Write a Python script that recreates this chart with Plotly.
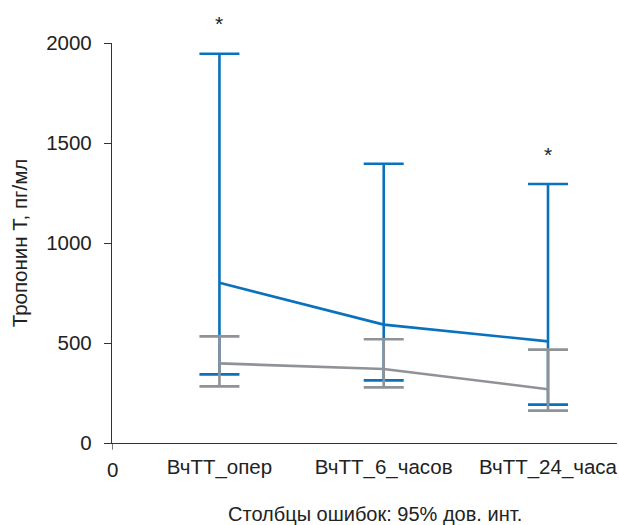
import plotly.graph_objects as go

categories = ["ВчТТ_опер", "ВчТТ_6_часов", "ВчТТ_24_часа"]
blue_mean = [801, 592, 508]
blue_low = [343, 313, 192]
blue_high = [1946, 1396, 1295]
gray_mean = [398, 370, 269]
gray_low = [283, 278, 162]
gray_high = [533, 519, 467]
y_ticks = [0, 500, 1000, 1500, 2000]
significant = [True, False, True]
origin_label = "0"
y_title = "Тропонин Т, пг/мл"
footnote = "Столбцы ошибок: 95% дов. инт."

BLUE = "#0a72bd"
GRAY = "#8f9297"
TXT = "#222222"
FONT = "Liberation Sans, Arial, sans-serif"

xs = list(range(1, len(categories) + 1))

fig = go.Figure()


def add_series(mean, low, high, color):
    fig.add_trace(go.Scatter(
        x=xs, y=mean, mode="lines",
        line=dict(color=color, width=2.6),
        error_y=dict(
            type="data", symmetric=False,
            array=[h - m for h, m in zip(high, mean)],
            arrayminus=[m - l for m, l in zip(mean, low)],
            color=color, thickness=2.6, width=20,
        ),
        showlegend=False, hoverinfo="skip", cliponaxis=False,
    ))


add_series(blue_mean, blue_low, blue_high, BLUE)
add_series(gray_mean, gray_low, gray_high, GRAY)

x0 = 0.346
x1 = 3.42

for x, sig, h in zip(xs, significant, blue_high):
    if sig:
        fig.add_annotation(x=x, y=h, text="*", showarrow=False, yshift=30,
                           font=dict(size=21, color=TXT, family=FONT))

# origin label "0" and its tick
fig.add_annotation(x=x0, y=0, text=origin_label, showarrow=False, yshift=-26,
                   font=dict(size=20.5, color=TXT, family=FONT))
fig.add_shape(type="line", xref="x", yref="paper", x0=x0, x1=x0, y0=0, y1=-0.017,
              line=dict(color="#333333", width=1.3))

fig.add_annotation(xref="paper", yref="paper", x=0.521, y=-0.178, text=footnote,
                   showarrow=False, xanchor="center", yanchor="middle",
                   font=dict(size=20, color=TXT, family=FONT))

fig.update_layout(
    width=619, height=525,
    margin=dict(l=112, r=2, t=43, b=82),
    paper_bgcolor="white", plot_bgcolor="white",
    font=dict(family=FONT, color=TXT, size=20.5),
    xaxis=dict(
        range=[x0, x1], tickvals=xs, ticktext=categories, ticks="",
        showgrid=False, zeroline=False, showline=True, linecolor="#333333",
        linewidth=1.3, tickfont=dict(size=20.5, color=TXT), ticklabelstandoff=5,
        ticklabeloverflow="allow",
    ),
    yaxis=dict(
        range=[0, 2000], tickvals=y_ticks, ticks="outside", ticklen=7,
        tickcolor="#333333", tickwidth=1.3,
        showgrid=False, zeroline=False, showline=True, linecolor="#333333",
        linewidth=1.3, tickfont=dict(size=20.5, color=TXT), ticklabelstandoff=8,
        title=dict(text=y_title, font=dict(size=20.5, color=TXT), standoff=12),
    ),
)

fig.write_html("out.html", config={"displayModeBar": False},
               post_script="document.body.style.margin='0';document.body.style.overflow='hidden';")
